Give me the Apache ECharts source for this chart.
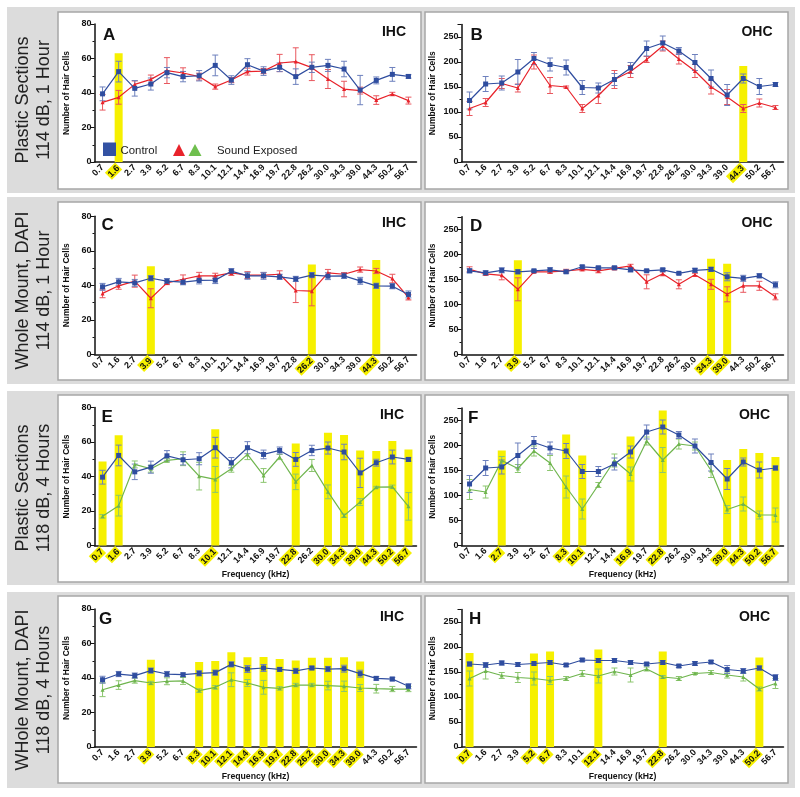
<!DOCTYPE html>
<html><head><meta charset="utf-8">
<script src="https://cdn.jsdelivr.net/npm/echarts@6/dist/echarts.min.js"></script>
<style>html,body{margin:0;padding:0;background:#fff}#c{width:800px;height:797px}</style>
</head><body><div id="c"></div>
<script>
const freqs = ['0.7','1.6','2.7','3.9','5.2','6.7','8.3','10.1','12.1','14.4','16.9','19.7','22.8','26.2','30.0','34.3','39.0','44.3','50.2','56.7'];

// Panel A (Plastic sections, 114 dB 1 h, IHC)
const ctrlA    = [39.5,52.4,42.7,45.2,51.8,49.5,50,56,47.5,56.4,52.7,54.9,49.5,54.9,56,53.9,41.7,47.3,50.8,49.6];
const ctrlAErr = [4,6,4.5,3.5,3,3,3,6,2.5,3.5,2.5,2.5,4.5,3,3.5,4.5,8.5,2,4,1];
const expA     = [34.6,37.5,45,47.9,53,51.6,49.5,43.7,47.5,52.4,52.7,57.4,58.2,54.7,48.1,42.3,41.4,35.9,39.4,35.6];
const expAErr  = [4.5,4,2,2.5,7.5,3,2,1.5,1.5,2,1.5,5,8,7.5,5.5,4.5,2,2.5,1,2];
const hlA_cats = ['1.6'];
const hlA_vals = [63];

// Panel B (OHC)
const ctrlB    = [123,156,158,180,207,195,189,149,148,165,188,227,238,222,199,167,134,167,151,155];
const ctrlBErr = [17,15,14,25,12,13,15,14,10,12,11,15,14,7,16,17,21,9,16,4];
const expB     = [107,119,157,148,200,153,150,107,133,165,181,205,232,206,182,150,130,107,118,109];
const expBErr  = [14,8,10,8,14,16,2,8,16,18,12,6,10,10,13,14,15,8,8,4];
const hlB_cats = ['44.3'];
const hlB_vals = [192];

// Panel C (Whole mount, 114 dB 1 h, IHC)
const ctrlC    = [39.1,42,41.4,44.1,42.4,41.8,42.8,43,48.2,45.5,45.5,44.9,43.7,45.9,45.3,45.5,42.6,39.7,39.5,34.7];
const ctrlCErr = [2,2,2,1.5,1.5,1.5,2,2,1.5,2,2,1.5,1.5,1.5,2,1.5,2,1.5,1.5,2];
const expC     = [35.3,39.7,42.4,32.5,41.4,43.5,45.5,45.5,47.2,45.9,45.9,46.4,37,36.6,47.2,46.4,49.1,48.3,43.9,33];
const expCErr  = [2.5,2,3.5,5.5,1,2.5,2,1.5,1.5,2,1.5,2,7,8.5,2,1,1.5,1.5,2.5,1.5];
const hlC_cats = ['3.9','26.2','44.3'];
const hlC_vals = [51,52,54.7];

// Panel D (OHC)
const ctrlD    = [167,163,168,165,167,169,165,175,173,173,169,167,169,162,168,170,155,152,157,139];
const ctrlDErr = [4,4,5,4,2,4,3,3,3,3,4,2,3,2,4,4,8,6,4,6];
const expD     = [170,161,158,130,165,165,167,170,167,172,177,145,161,140,159,140,120,137,137,115];
const expDErr  = [5,3,9,23,2,3,3,3,4,3,3,14,4,9,3,10,15,13,9,6];
const hlD_cats = ['3.9','34.3','39.0'];
const hlD_vals = [188,191,181];

// Panel E (Plastic sections, 118 dB 4 h, IHC)
const ctrlE    = [39.6,52.2,42.7,45.4,52,49.7,50.3,56.7,48,56.7,52.8,55.1,49.9,55.1,56.5,54.2,42.1,48,51.3,49.9];
const ctrlEErr = [4,6,4.5,3.5,3,3,3.5,6,3,3.5,2.5,2,4,3,3.5,4.5,8.5,2,4,1];
const expE     = [16.9,23.1,47,44.5,49.3,50.3,40.2,38.3,44.5,52.8,40.6,51.3,36.9,46.4,31.1,17.3,25.2,33.8,34,22.7];
const expEErr  = [1,6,2,2,1,4,8,7.5,2,3,4,1.5,4.5,3.5,4,1,2,0.5,1,8];
const hlE_cats = ['0.7','1.6','10.1','22.8','30.0','34.3','39.0','44.3','50.2','56.7'];
const hlE_vals = [48.7,63.9,67.4,59.2,65.4,64.1,55.1,54.8,60.6,55.7];

// Panel F (OHC)
const ctrlF    = [123,155,157,180,206,195,189,148,148,163,187,227,237,221,199,166,133,167,151,155];
const ctrlFErr = [17,15,14,25,12,12,15,14,10,12,12,14,14,7,14,17,21,8,16,4];
const expF     = [112,107,170,154,189,165,117,73,121,170,143,209,171,203,199,150,72,83,61,61];
const expFErr  = [20,12,8,8,10,15,22,20,5,13,14,8,25,10,8,14,8,14,8,14];
const hlF_cats = ['2.7','8.3','10.1','16.9','22.8','39.0','44.3','50.2','56.7'];
const hlF_vals = [190,222,180,218,270,171,193,185,177];

// Panel G (Whole mount, 118 dB 4 h, IHC)
const ctrlG    = [39,42.3,41.4,44.3,42.3,41.9,42.7,43.1,47.9,45.2,45.8,45,44.1,45.8,45.2,45.4,42.5,39.8,39.4,35.2];
const ctrlGErr = [2,1.5,1.5,1.5,1.5,1,1.5,1.5,1.5,2,2,1,1.5,1,1.5,2,2,1,1,1.5];
const expG     = [33.2,35.9,38.5,37.1,38.1,38.3,32.7,34.6,39,37.1,34.6,34,35.9,35.9,35.6,35.2,34.2,33.8,33.6,33.6];
const expGErr  = [4,2.5,1.5,1,2,2,1,1,4,2,4,1,1,1,2.5,3,2,2.5,1.5,1.5];
const hlG_cats = ['3.9','8.3','10.1','12.1','14.4','16.9','19.7','22.8','26.2','30.0','34.3','39.0'];
const hlG_vals = [50.6,49.3,49.9,54.9,52,52.2,51,50.2,51.8,51.8,52,49.5];

// Panel H (OHC)
const ctrlH    = [166,164,168,165,167,169,164,174,173,173,169,166,169,162,167,170,155,152,158,139];
const ctrlHErr = [4,5,4,4,3,4,3,3,4,4,4,3,4,3,4,3,8,5,4,6];
const expH     = [137,152,143,139,137,133,137,147,142,151,144,156,140,137,147,149,144,140,116,127];
const expHErr  = [15,16,6,10,13,8,4,6,14,7,14,4,3,4,2,4,6,8,4,10];
const hlH_cats = ['0.7','5.2','6.7','12.1','22.8','50.2'];
const hlH_vals = [188,187,191,195,191,179];

const rowLabels = [
  'Plastic Sections\n114 dB, 1 Hour',
  'Whole Mount, DAPI\n114 dB, 1 Hour',
  'Plastic Sections\n118 dB, 4 Hours',
  'WHole Mount, DAPI\n118 dB, 4 Hours'
];

const FONT = '"Liberation Sans", Arial, Helvetica, sans-serif';
const YEL = '#f6f000';
const BLUE = '#2f4d9f', BLUE_ERR = '#6d80bd';
const RED = '#e8232b', RED_ERR = '#e8575e';
const GREEN = '#6fb54e', GREEN_ERR = '#8cc66f';

const panels = [
  {L:'A', t:'IHC', r:0, c:0, ctrl:ctrlA, ctrlErr:ctrlAErr, exp:expA, expErr:expAErr, ex:'red', hc:hlA_cats, hv:hlA_vals},
  {L:'B', t:'OHC', r:0, c:1, ctrl:ctrlB, ctrlErr:ctrlBErr, exp:expB, expErr:expBErr, ex:'red', hc:hlB_cats, hv:hlB_vals},
  {L:'C', t:'IHC', r:1, c:0, ctrl:ctrlC, ctrlErr:ctrlCErr, exp:expC, expErr:expCErr, ex:'red', hc:hlC_cats, hv:hlC_vals},
  {L:'D', t:'OHC', r:1, c:1, ctrl:ctrlD, ctrlErr:ctrlDErr, exp:expD, expErr:expDErr, ex:'red', hc:hlD_cats, hv:hlD_vals},
  {L:'E', t:'IHC', r:2, c:0, ctrl:ctrlE, ctrlErr:ctrlEErr, exp:expE, expErr:expEErr, ex:'green', hc:hlE_cats, hv:hlE_vals},
  {L:'F', t:'OHC', r:2, c:1, ctrl:ctrlF, ctrlErr:ctrlFErr, exp:expF, expErr:expFErr, ex:'green', hc:hlF_cats, hv:hlF_vals},
  {L:'G', t:'IHC', r:3, c:0, ctrl:ctrlG, ctrlErr:ctrlGErr, exp:expG, expErr:expGErr, ex:'green', hc:hlG_cats, hv:hlG_vals},
  {L:'H', t:'OHC', r:3, c:1, ctrl:ctrlH, ctrlErr:ctrlHErr, exp:expH, expErr:expHErr, ex:'green', hc:hlH_cats, hv:hlH_vals}
];

// layout
const rowGray = [[7,193],[197,384],[391,585],[592,788]];
const rowPanel = [[12,189],[202,380],[395,582],[596,783]];
const rowBottom = [162, 354.3, 545.5, 747];
const colLeft = [94.5, 461.5];
const colBox = [[58,421],[425,788]];
const letterPos = [[103,35],[470.5,35.5],[101.5,225],[470,226],[101.5,417],[468,418.5],[99,619],[469,619]];
const tagPos = [[406,31.7],[772.5,31.7],[406,223],[772.5,223.3],[404,415],[770,415.4],[404,617],[770,617]];

const chart = echarts.init(document.getElementById('c'), null, {renderer:'canvas'});

const grids = [], xAxes = [], yAxes = [], series = [];
const graphics = [];

rowGray.forEach((g, r) => {
  graphics.push({type:'rect', z:-20, shape:{x:7, y:g[0], width:788, height:g[1]-g[0]}, style:{fill:'#dcdcdc'}});
  graphics.push({type:'rect', z:-19, shape:{x:colBox[0][0], y:rowPanel[r][0], width:colBox[0][1]-colBox[0][0], height:rowPanel[r][1]-rowPanel[r][0]}, style:{fill:'#fff', stroke:'#a6a6a6', lineWidth:1.5}});
  graphics.push({type:'rect', z:-19, shape:{x:colBox[1][0], y:rowPanel[r][0], width:colBox[1][1]-colBox[1][0], height:rowPanel[r][1]-rowPanel[r][0]}, style:{fill:'#fff', stroke:'#a6a6a6', lineWidth:1.5}});
  graphics.push({type:'text', z:50, x:34, y:(g[0]+g[1])/2, rotation:Math.PI/2,
    style:{text:rowLabels[r], font:'18px ' + FONT, fill:'#222', align:'center', verticalAlign:'middle', lineHeight:21}});
});

function errRender(color) {
  return function (params, api) {
    const x = api.value(0);
    const lo = api.coord([x, api.value(1)]);
    const hi = api.coord([x, api.value(2)]);
    const w = 3;
    const st = {stroke: color, lineWidth: 1};
    return {type:'group', children:[
      {type:'line', shape:{x1:lo[0], y1:lo[1], x2:hi[0], y2:hi[1]}, style:st},
      {type:'line', shape:{x1:lo[0]-w, y1:lo[1], x2:lo[0]+w, y2:lo[1]}, style:st},
      {type:'line', shape:{x1:hi[0]-w, y1:hi[1], x2:hi[0]+w, y2:hi[1]}, style:st}
    ]};
  };
}

panels.forEach((p, i) => {
  const ihc = p.t === 'IHC';
  const h = ihc ? 138 : 137.5;
  const bottom = rowBottom[p.r];
  grids.push({left: colLeft[p.c], top: bottom - h, width: 322, height: h});
  const hl = p.hc;
  xAxes.push({
    gridIndex:i, type:'category', data:freqs, boundaryGap:true,
    axisLine:{lineStyle:{color:'#111', width:1.5}},
    axisTick:{alignWithLabel:true, length:3, lineStyle:{color:'#111', width:1}},
    axisLabel:{interval:0, rotate:45, margin:4, fontSize:9, fontWeight:'bold', color:'#111', fontFamily:FONT,
      formatter: v => hl.indexOf(v) >= 0 ? '{h|' + v + '}' : v,
      rich:{h:{backgroundColor:YEL, fontSize:9, fontWeight:'bold', color:'#111', fontFamily:FONT, padding:[1,1,0,1]}}},
    name: p.r >= 2 ? 'Frequency (kHz)' : '',
    nameLocation:'middle', nameGap:25,
    nameTextStyle:{fontSize:8.7, fontWeight:'bold', color:'#111', fontFamily:FONT},
    splitLine:{show:false}
  });
  yAxes.push({
    gridIndex:i, type:'value', min:0, max: ihc ? 80 : 275, interval: ihc ? 20 : 50,
    axisLine:{show:true, lineStyle:{color:'#111', width:1.5}},
    axisTick:{show:true, length:4, lineStyle:{color:'#111', width:1}},
    minorTick:{show:true, splitNumber:2, length:2, lineStyle:{color:'#111', width:1}},
    splitLine:{show:false},
    axisLabel:{fontSize:9, fontWeight:'bold', color:'#111', margin:3, fontFamily:FONT, showMaxLabel: ihc},
    name:'Number of Hair Cells', nameLocation:'middle', nameGap: ihc ? 23 : 24,
    nameTextStyle:{fontSize:8.5, fontWeight:'bold', color:'#111', fontFamily:FONT}
  });
  const exColor = p.ex === 'red' ? RED : GREEN;
  const exErr = p.ex === 'red' ? RED_ERR : GREEN_ERR;
  series.push({
    type:'bar', xAxisIndex:i, yAxisIndex:i, barWidth:8, z:1, silent:true,
    itemStyle:{color:YEL},
    data: freqs.map(f => { const k = hl.indexOf(f); return k >= 0 ? p.hv[k] : '-'; })
  });
  series.push({
    type:'custom', xAxisIndex:i, yAxisIndex:i, z:2, renderItem: errRender(exErr),
    encode:{x:0, y:[1,2]},
    data: p.exp.map((v, k) => [k, v - p.expErr[k], v + p.expErr[k]])
  });
  series.push({
    type:'custom', xAxisIndex:i, yAxisIndex:i, z:3, renderItem: errRender(BLUE_ERR),
    encode:{x:0, y:[1,2]},
    data: p.ctrl.map((v, k) => [k, v - p.ctrlErr[k], v + p.ctrlErr[k]])
  });
  series.push({
    type:'line', xAxisIndex:i, yAxisIndex:i, z:4, data:p.exp,
    symbol:'triangle', symbolSize:4, showSymbol:true,
    lineStyle:{color:exColor, width:1.2}, itemStyle:{color:exColor}
  });
  series.push({
    type:'line', xAxisIndex:i, yAxisIndex:i, z:5, data:p.ctrl,
    symbol:'rect', symbolSize:5, showSymbol:true,
    lineStyle:{color:BLUE, width:1.2}, itemStyle:{color:BLUE}
  });
  graphics.push({type:'text', z:50, x:letterPos[i][0], y:letterPos[i][1],
    style:{text:p.L, font:'bold 17px ' + FONT, fill:'#111', align:'left', verticalAlign:'middle'}});
  graphics.push({type:'text', z:50, x:tagPos[i][0], y:tagPos[i][1],
    style:{text:p.t, font:'bold 14px ' + FONT, fill:'#111', align:'right', verticalAlign:'middle'}});
});

// legend in panel A
graphics.push({type:'rect', z:50, shape:{x:103, y:142.5, width:13, height:13.5}, style:{fill:'#3352a3'}});
graphics.push({type:'text', z:50, x:120.5, y:151, style:{text:'Control', font:'11.4px ' + FONT, fill:'#222', verticalAlign:'middle'}});
graphics.push({type:'polygon', z:50, shape:{points:[[173,156],[185,156],[179,144]]}, style:{fill:'#e8232b'}});
graphics.push({type:'polygon', z:50, shape:{points:[[188.5,156],[201.5,156],[195,144]]}, style:{fill:'#6fbf4e'}});
graphics.push({type:'text', z:50, x:217, y:151, style:{text:'Sound Exposed', font:'11.4px ' + FONT, fill:'#222', verticalAlign:'middle'}});

chart.setOption({
  animation:false,
  backgroundColor:'#ffffff',
  grid:grids, xAxis:xAxes, yAxis:yAxes, series:series,
  graphic:{elements:graphics}
});
</script></body></html>
